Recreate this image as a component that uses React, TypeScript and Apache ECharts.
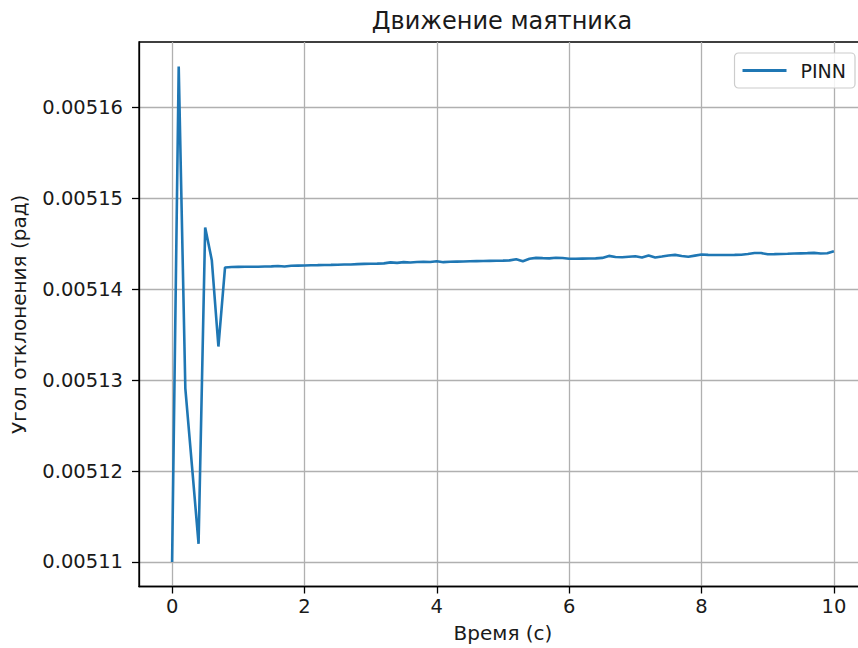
import React, { useEffect, useRef } from "react";
import * as echarts from "echarts";

const TITLE = "Движение маятника";
const X_NAME = "Время (с)";
const Y_NAME = "Угол отклонения (рад)";
const SERIES_NAME = "PINN";

const X_TICKS = [0, 2, 4, 6, 8, 10];
const Y_TICKS = [0.00511, 0.00512, 0.00513, 0.00514, 0.00515, 0.00516];

const times = [
  0.0, 0.1, 0.2, 0.3, 0.4, 0.5, 0.6, 0.7, 0.8, 0.9,
  1.0, 1.1, 1.2, 1.3, 1.4, 1.5, 1.6, 1.7, 1.8, 1.9,
  2.0, 2.1, 2.2, 2.3, 2.4, 2.5, 2.6, 2.7, 2.8, 2.9,
  3.0, 3.1, 3.2, 3.3, 3.4, 3.5, 3.6, 3.7, 3.8, 3.9,
  4.0, 4.1, 4.2, 4.3, 4.4, 4.5, 4.6, 4.7, 4.8, 4.9,
  5.0, 5.1, 5.2, 5.3, 5.4, 5.5, 5.6, 5.7, 5.8, 5.9,
  6.0, 6.1, 6.2, 6.3, 6.4, 6.5, 6.6, 6.7, 6.8, 6.9,
  7.0, 7.1, 7.2, 7.3, 7.4, 7.5, 7.6, 7.7, 7.8, 7.9,
  8.0, 8.1, 8.2, 8.3, 8.4, 8.5, 8.6, 8.7, 8.8, 8.9,
  9.0, 9.1, 9.2, 9.3, 9.4, 9.5, 9.6, 9.7, 9.8, 9.9,
  10.0,
];

const angles = [
  0.0051100, 0.0051645, 0.0051291, 0.0051206, 0.0051120, 0.0051468, 0.0051432, 0.0051337,
  0.00514240, 0.00514245,
  0.00514246, 0.00514247, 0.00514248, 0.00514248, 0.00514250, 0.00514252, 0.00514255, 0.00514250, 0.00514258, 0.00514260,
  0.00514262, 0.00514264, 0.00514265, 0.00514267, 0.00514268, 0.00514270, 0.00514272, 0.00514273, 0.00514276, 0.00514279,
  0.00514280, 0.00514282, 0.00514285, 0.00514296, 0.00514290, 0.00514298, 0.00514295, 0.00514299, 0.00514302, 0.00514300,
  0.00514308, 0.00514298, 0.00514302, 0.00514304, 0.00514306, 0.00514308, 0.00514309, 0.00514310, 0.00514312, 0.00514313,
  0.00514315, 0.00514318, 0.00514330, 0.00514308, 0.00514335, 0.00514345, 0.00514342, 0.00514340, 0.00514347, 0.00514344,
  0.00514335, 0.00514336, 0.00514337, 0.00514338, 0.00514340, 0.00514345, 0.00514367, 0.00514355, 0.00514352, 0.00514358,
  0.00514363, 0.00514350, 0.00514371, 0.00514350, 0.00514360, 0.00514372, 0.00514378, 0.00514366, 0.00514358, 0.00514370,
  0.00514382, 0.00514378, 0.00514376, 0.00514376, 0.00514377, 0.00514378, 0.00514380, 0.00514388, 0.00514399, 0.00514398,
  0.00514385, 0.00514386, 0.00514388, 0.00514390, 0.00514393, 0.00514395, 0.00514397, 0.00514400, 0.00514393, 0.00514396,
  0.00514419,
];

const FONT = "DejaVu Sans";
const TEXT_COLOR = "#1a1a1a";

export default function App() {
  const ref = useRef<HTMLDivElement>(null);

  useEffect(() => {
    if (!ref.current) return;
    const chart = echarts.init(ref.current, undefined, { renderer: "svg" });
    const data = times.map((t, i) => [t, angles[i]]);
    chart.setOption({
      animation: false,
      backgroundColor: "#ffffff",
      textStyle: { fontFamily: FONT, color: TEXT_COLOR },
      title: {
        text: TITLE,
        left: 502,
        top: 9,
        padding: 0,
        textAlign: "center",
        textStyle: { fontFamily: FONT, fontSize: 24, fontWeight: "normal", color: TEXT_COLOR },
      },
      legend: {
        right: 3,
        top: 53,
        padding: [8, 9, 8, 8],
        backgroundColor: "rgba(255,255,255,0.85)",
        borderColor: "#cccccc",
        borderWidth: 1.2,
        borderRadius: 4,
        icon: "rect",
        itemWidth: 44,
        itemHeight: 3,
        textStyle: { fontFamily: FONT, fontSize: 19, color: TEXT_COLOR, padding: [0, 0, 0, 9] },
        data: [SERIES_NAME],
      },
      grid: {
        left: 139,
        top: 42,
        right: -9,
        bottom: 61.5,
        show: true,
        borderColor: "#000000",
        borderWidth: 1.3,
        containLabel: false,
        outerBoundsMode: "none",
      },
      xAxis: {
        type: "value",
        min: -0.5,
        max: 10.5,
        splitNumber: 5,
        name: X_NAME,
        nameLocation: "middle",
        nameGap: 36,
        nameTextStyle: { fontFamily: FONT, fontSize: 20, color: TEXT_COLOR },
        axisLine: { show: true, onZero: false, lineStyle: { color: "#000", width: 1.3 } },
        axisTick: { show: true, length: 7, lineStyle: { color: "#000", width: 1.3 }, customValues: X_TICKS },
        axisLabel: {
          fontFamily: FONT,
          fontSize: 19.5,
          color: TEXT_COLOR,
          margin: 10,
          customValues: X_TICKS,
          formatter: (v: number) => String(Math.round(v)),
        },
        splitLine: { show: true, lineStyle: { color: "#b0b0b0", width: 1.3 } },
      },
      yAxis: {
        type: "value",
        min: 0.0051073,
        max: 0.0051672,
        splitNumber: 6,
        name: Y_NAME,
        nameLocation: "middle",
        nameGap: 110,
        nameTextStyle: { fontFamily: FONT, fontSize: 20, color: TEXT_COLOR },
        axisLine: { show: true, onZero: false, lineStyle: { color: "#000", width: 1.3 } },
        axisTick: { show: true, length: 7, lineStyle: { color: "#000", width: 1.3 }, customValues: Y_TICKS },
        axisLabel: {
          fontFamily: FONT,
          fontSize: 19.5,
          color: TEXT_COLOR,
          margin: 16,
          customValues: Y_TICKS,
          formatter: (v: number) => v.toFixed(5),
        },
        splitLine: { show: true, lineStyle: { color: "#b0b0b0", width: 1.3 } },
      },
      series: [
        {
          name: SERIES_NAME,
          type: "line",
          data,
          symbol: "none",
          lineStyle: { color: "#1f77b4", width: 2.6 },
          itemStyle: { color: "#1f77b4" },
        },
      ],
    });
    return () => chart.dispose();
  }, []);

  return <div ref={ref} style={{ width: 858, height: 648, position: "absolute", left: 0, top: 0 }} />;
}
